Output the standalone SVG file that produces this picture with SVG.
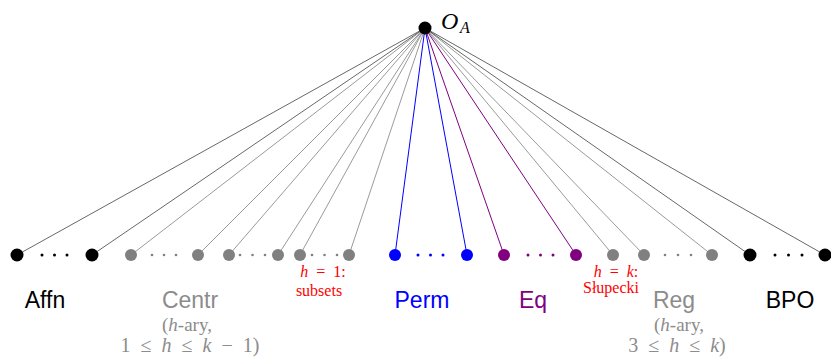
<svg xmlns="http://www.w3.org/2000/svg" width="831" height="357" viewBox="0 0 831 357">
<style>
.k{stroke:#000;stroke-width:0.6}
.g{stroke:#808080;stroke-width:0.8}
.b{stroke:#0000ff;stroke-width:1}
.p{stroke:#800080;stroke-width:1}
.sans{font-family:"Liberation Sans",Arial,sans-serif;font-size:23px;text-anchor:middle}
.ser{font-family:"Liberation Serif","Times New Roman",serif;text-anchor:middle}
.it{font-style:italic}
.lg{fill:#8c8c8c}
</style>
<rect width="831" height="357" fill="#fff"/>
<g id="connectors" fill="none">
<line class="k" x1="425" y1="28" x2="17" y2="255"/>
<line class="k" x1="425" y1="28" x2="92" y2="255"/>
<line class="g" x1="425" y1="28" x2="131" y2="255"/>
<line class="g" x1="425" y1="28" x2="198" y2="255"/>
<line class="g" x1="425" y1="28" x2="229" y2="255"/>
<line class="g" x1="425" y1="28" x2="278" y2="255"/>
<line class="g" x1="425" y1="28" x2="300" y2="255"/>
<line class="g" x1="425" y1="28" x2="349" y2="255"/>
<line class="b" x1="425" y1="28" x2="395" y2="255"/>
<line class="b" x1="425" y1="28" x2="467" y2="255"/>
<line class="p" x1="425" y1="28" x2="504" y2="255"/>
<line class="p" x1="425" y1="28" x2="576" y2="255"/>
<line class="g" x1="425" y1="28" x2="613" y2="255"/>
<line class="g" x1="425" y1="28" x2="644" y2="255"/>
<line class="g" x1="425" y1="28" x2="712" y2="255"/>
<line class="k" x1="425" y1="28" x2="750" y2="255"/>
<line class="k" x1="425" y1="28" x2="825" y2="255"/>
</g>
<g id="top">
<circle cx="425" cy="28" r="6.5" fill="#000"/>
<text x="441" y="29" font-family="Liberation Serif,serif" font-style="italic" font-size="24">O</text>
<text x="460" y="33" font-family="Liberation Serif,serif" font-style="italic" font-size="16">A</text>
</g>
<g id="affn" fill="#000">
<circle cx="17" cy="255" r="6.5"/>
<circle cx="92" cy="255" r="6.5"/>
<circle cx="42" cy="255" r="1.5"/><circle cx="54.5" cy="255" r="1.5"/><circle cx="67" cy="255" r="1.5"/>
<text class="sans" x="45" y="308">Affn</text>
</g>
<g id="centr" fill="#808080">
<circle cx="131" cy="255" r="6"/>
<circle cx="198" cy="255" r="6"/>
<circle cx="229" cy="255" r="6"/>
<circle cx="278" cy="255" r="6"/>
<circle cx="300" cy="255" r="6"/>
<circle cx="349" cy="255" r="6"/>
<circle cx="152" cy="255" r="1.3"/><circle cx="164" cy="255" r="1.3"/><circle cx="176" cy="255" r="1.3"/>
<circle cx="240" cy="255" r="1.3"/><circle cx="252.5" cy="255" r="1.3"/><circle cx="265" cy="255" r="1.3"/>
<circle cx="312" cy="255" r="1.3"/><circle cx="324.5" cy="255" r="1.3"/><circle cx="337" cy="255" r="1.3"/>
<text class="sans lg" x="190" y="308">Centr</text>
<text class="ser lg" x="187" y="331" font-size="19">(<tspan class="it">h</tspan>-ary,</text>
<text class="ser lg" x="190" y="352" font-size="20">1&#8194;≤&#8194;<tspan class="it">h</tspan>&#8194;≤&#8194;<tspan class="it">k</tspan>&#8194;−&#8194;1)</text>
</g>
<g id="subsets" fill="#ff0000">
<text class="ser" x="323" y="277" font-size="16"><tspan class="it">h</tspan>&#8194;=&#8194;1:</text>
<text class="ser" x="319" y="296" font-size="16">subsets</text>
</g>
<g id="perm" fill="#0000ff">
<circle cx="395" cy="255" r="6"/>
<circle cx="467" cy="255" r="6"/>
<circle cx="418" cy="255" r="1.5"/><circle cx="430.5" cy="255" r="1.5"/><circle cx="443" cy="255" r="1.5"/>
<text class="sans" x="422" y="308">Perm</text>
</g>
<g id="eq" fill="#800080">
<circle cx="504" cy="255" r="6"/>
<circle cx="576" cy="255" r="6"/>
<circle cx="528" cy="255" r="1.5"/><circle cx="540.5" cy="255" r="1.5"/><circle cx="553" cy="255" r="1.5"/>
<text class="sans" x="533" y="308">Eq</text>
</g>
<g id="slupecki" fill="#ff0000">
<text class="ser" x="616" y="277" font-size="16"><tspan class="it">h</tspan>&#8194;=&#8194;<tspan class="it">k</tspan>:</text>
<text class="ser" x="611" y="293" font-size="16">Słupecki</text>
</g>
<g id="reg" fill="#808080">
<circle cx="613" cy="255" r="6"/>
<circle cx="644" cy="255" r="6"/>
<circle cx="712" cy="255" r="6"/>
<circle cx="665" cy="255" r="1.3"/><circle cx="678" cy="255" r="1.3"/><circle cx="691" cy="255" r="1.3"/>
<text class="sans lg" x="674" y="308">Reg</text>
<text class="ser lg" x="679" y="331" font-size="19">(<tspan class="it">h</tspan>-ary,</text>
<text class="ser lg" x="677" y="352" font-size="20">3&#8194;≤&#8194;<tspan class="it">h</tspan>&#8194;≤&#8194;<tspan class="it">k</tspan>)</text>
</g>
<g id="bpo" fill="#000">
<circle cx="750" cy="255" r="6.5"/>
<circle cx="825" cy="255" r="6.5"/>
<circle cx="775" cy="255" r="1.5"/><circle cx="788.5" cy="255" r="1.5"/><circle cx="802" cy="255" r="1.5"/>
<text class="sans" x="790" y="308">BPO</text>
</g>
</svg>
